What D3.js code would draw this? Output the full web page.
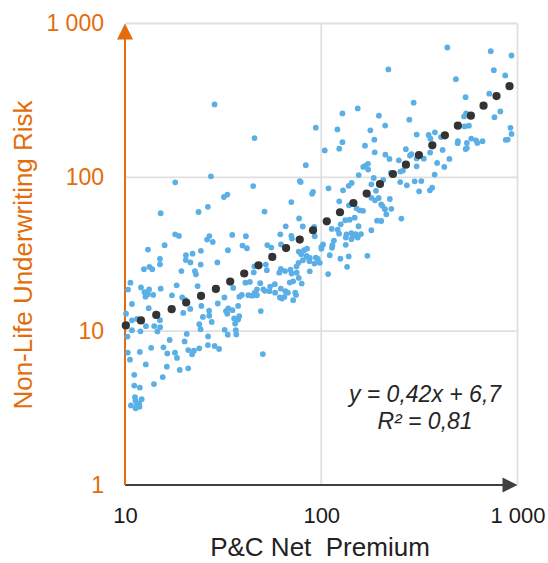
<!DOCTYPE html>
<html>
<head>
<meta charset="utf-8">
<script src="https://cdn.jsdelivr.net/npm/d3@7"></script>
<style>
  body { margin: 0; background: #fff; }
  text { font-family: "Liberation Sans", Arial, sans-serif; }
</style>
</head>
<body>
<svg width="548" height="563"></svg>
<script>
// tick values and labels
const xTicks = [10, 100, 1000];
const xLabels = ["10", "100", "1 000"];
const yTicks = [1, 10, 100, 1000];
const yLabels = ["1", "10", "100", "1 000"];

// trend points (dark dots)
const trendX = [10.1, 12.06, 14.43, 17.29, 20.5, 24.4, 29.05, 34.35, 40.5, 47.9, 56.3, 66.2, 77.7, 90.8, 106.7,
  124.6, 145.8, 170.4, 199.2, 231.9, 270.1, 314.6, 368.1, 426.6, 496.8, 578.6, 671.4, 781.7, 910.7];
const trendY = [10.9, 11.74, 12.76, 13.9, 15.36, 16.95, 18.83, 21.02, 23.7, 26.8, 30.4, 34.7, 39.4, 45.3, 51.8,
  59.3, 68.1, 78.4, 90.5, 105.1, 120.9, 139.6, 161.4, 187.4, 216.6, 251.5, 292.2, 337.3, 391.6];

// companies: [P&C net premium, non-life underwriting risk]
const companies = [
  [28.6,298],[27.4,101.5],[18.03,92.8],[15.2,58.4],[23.7,59.5],[26.45,64.3],[18.0,42.6],[18.83,41.6],[26.2,39.4],[26.9,41.5],
  [28.0,38.0],[13.09,33.9],[15.92,36.2],[24.36,33.3],[12.49,25.3],[13.32,26.2],[13.77,25.3],[15.07,29.5],[15.07,27.2],[19.39,24.6],
  [20.44,31.15],[20.4,29.0],[22.1,31.9],[21.55,28.0],[24.3,27.1],[29.56,28.0],[22.71,24.6],[22.98,23.45],[10.66,20.65],[10.36,18.65],
  [12.06,19.25],[13.27,18.68],[12.57,17.92],[13.09,17.39],[12.71,16.75],[13.93,17.2],[15.2,18.9],[18.33,19.85],[23.44,19.65],[17.34,17.1],
  [19.57,16.55],[20.27,15.99],[10.85,15.02],[13.21,14.1],[21.5,13.96],[24.5,14.58],[29.7,15.13],[10.12,12.99],[19.8,13.14],[26.83,13.59],
  [26.86,12.6],[24.94,12.38],[27.66,11.48],[10.85,11.76],[11.51,12.0],[15.07,11.79],[12.79,10.78],[14.09,10.8],[15.1,10.62],[14.63,9.96],
  [10.85,10.15],[11.99,9.97],[23.9,11.1],[24.28,10.3],[10.3,9.22],[20.63,9.6],[16.88,8.76],[20.13,8.58],[26.5,9.24],[26.45,8.12],
  [28.61,8.01],[30.17,7.66],[15.7,7.85],[13.59,7.79],[21.0,7.53],[22.45,7.47],[23.9,7.73],[21.98,7.07],[10.33,7.26],[11.9,7.33],
  [17.97,7.25],[16.42,7.17],[18.4,6.7],[10.6,6.53],[12.76,6.08],[16.34,5.88],[19.0,5.6],[21.0,5.73],[11.15,5.2],[15.57,5.03],
  [11.15,4.43],[11.9,4.3],[14.04,4.53],[11.24,3.72],[11.31,3.53],[12.16,3.61],[11.81,3.39],[10.72,3.29],[11.33,3.15],[11.85,3.23],
  [11.51,3.33],
  [45.7,180],[45.0,87.8],[31.9,74.5],[33.24,77.2],[51.4,59.9],[35.2,42.2],[41.3,41.4],[33.44,33.57],[39.7,36.0],[41.8,34.6],
  [53.1,36.3],[55.66,34.95],[45.6,26.4],[52.2,27.1],[52.8,24.9],[45.3,24.1],[83.4,120],[77.73,94.6],[78.6,93.2],[90.8,80.5],
  [89.8,78.1],[70.4,69.1],[77.1,54.1],[65.9,48.06],[80.5,47.9],[92.1,47.7],[61.85,42.6],[70.4,41.6],[70.9,40.0],[92.67,41.4],
  [62.4,36.6],[84.6,34.4],[81.7,33.6],[76.8,32.9],[79.0,31.6],[84.1,30.9],[85.1,30.3],[87.4,29.9],[93.8,30.1],[96.0,29.5],
  [100.2,34.4],[80.6,28.9],[87.1,28.5],[92.35,27.5],[98.3,27.8],[74.8,26.3],[76.6,27.8],[62.2,25.4],[65.4,24.6],[61.1,24.0],
  [69.7,25.1],[70.6,23.7],[75.0,24.0],[87.4,24.5],[41.05,20.65],[43.27,20.9],[48.9,20.5],[50.7,18.7],[51.6,18.3],[54.5,18.2],
  [54.9,19.5],[45.7,17.7],[47.0,17.2],[42.5,17.13],[44.5,17.0],[46.8,17.1],[39.4,17.2],[38.26,16.75],[35.6,19.1],[47.0,18.7],
  [58.0,20.2],[62.2,18.9],[65.7,18.2],[67.6,17.8],[69.1,20.7],[71.9,21.1],[76.8,22.2],[79.5,20.4],[73.7,17.8],[74.4,17.2],
  [61.5,16.55],[63.1,16.3],[64.9,16.7],[71.9,15.9],[58.2,17.8],[32.1,16.55],[37.7,14.6],[33.6,14.05],[32.7,13.5],[33.2,13.0],
  [35.3,13.7],[36.0,12.1],[38.2,12.5],[37.7,11.9],[36.4,11.2],[32.2,10.2],[33.4,9.49],[36.7,10.15],[36.9,9.52],[49.2,13.5],
  [50.4,7.1],
  [438.9,698],[730.6,660.8],[932,619.6],[219.8,502.6],[485.4,434.8],[757.5,497.4],[865.7,459.5],[543.7,332],[717.9,350],[295.7,305.9],
  [153.4,280.5],[128.2,260.3],[196.7,251.6],[281.1,237.0],[211.7,217],[93.8,210.3],[120.9,205],[177.9,202],[534.2,249],[547.0,260.3],
  [565.3,216.6],[537.4,214.4],[763,246],[817.5,268.3],[920.3,209.7],[932,191.6],[306.3,189.7],[186.5,175.7],[128.2,169.3],[123.5,153.5],
  [104.2,149.7],[167.1,160.7],[187.2,145.3],[212.2,140.4],[222.7,131.8],[269.9,152.4],[283.1,138.5],[288.1,141.6],[248.6,128.9],[253,109.0],
  [260.8,110.7],[306.3,132.8],[306.3,117.9],[333.2,132.2],[352.5,188.8],[360,178.4],[379.5,196],[407.2,182.7],[497,172.1],[495.3,166.7],
  [552.1,167.3],[581.4,178.6],[615,173.9],[623.9,167.3],[663.6,171.8],[543.7,152.6],[552.1,155.0],[870.8,175.2],[891.5,175.9],[358.8,144.8],
  [415.5,150.8],[389.4,124.0],[449.7,131.8],[423.7,116.9],[378.2,104.2],[357.9,82.33],[367.3,85.6],[315.3,81.1],[323.6,94.5],[299.2,94.2],
  [273.0,88.7],[252.4,93.2],[226.3,106.9],[206.9,96.3],[185.0,99.0],[180,90.1],[155.2,103.5],[163.7,116.9],[167.5,118.8],[173.0,122.5],
  [173.4,112.3],[142.9,92.0],[138.0,88.0],[129.1,82.3],[108.9,84.8],[123.5,69.8],[138.4,65.8],[151.3,62.9],[157.0,61.05],[163.3,60.6],
  [190.1,81.7],[180,73.6],[187.9,70.9],[196.2,73.4],[202.1,66.8],[204.9,65.3],[223.7,72.3],[211.2,62.0],[227.6,62.4],[214.7,57.5],
  [255.9,53.9],[192.5,52.3],[202.1,52.0],[180,45.3],[132.5,52.6],[139.6,53.0],[148.1,54.7],[125.7,49.5],[154.9,48.1],[113.1,46.2],
  [121.3,45.7],[123.3,43.0],[134.5,42.6],[142.4,43.4],[145.1,41.4],[149.8,42.8],[153.4,40.6],[159.4,42.8],[142.4,39.6],[133.3,40.6],
  [116.1,38.8],[102.1,36.6],[100.2,35.3],[114.0,36.2],[113.5,34.8],[133.3,36.4],[110.5,31.15],[125.2,29.6],[138.0,30.6],[171.8,30.9],
  [135.4,26.2],[108.4,23.5]
];

const orange = "#e46c0a";
const dark = "#404040";

const svg = d3.select("svg");

const plotLeft = 125, plotRight = 517.5, plotTop = 23.5, plotBottom = 485;

const x = d3.scaleLog().domain([10, 1000]).range([plotLeft, plotRight]);
const y = d3.scaleLog().domain([1, 1000]).range([plotBottom, plotTop]);

// gridlines
const grid = svg.append("g").attr("stroke", "#e0e0e0").attr("stroke-width", 1.8);
grid.selectAll(".gh")
  .data(yTicks.slice(1))
  .join("line")
  .attr("x1", plotLeft).attr("x2", plotRight)
  .attr("y1", d => y(d)).attr("y2", d => y(d));
grid.selectAll(".gv")
  .data(xTicks.slice(1))
  .join("line")
  .attr("x1", d => x(d)).attr("x2", d => x(d))
  .attr("y1", plotTop).attr("y2", plotBottom);

// x axis line with arrow
svg.append("line")
  .attr("x1", plotLeft).attr("x2", plotRight - 6)
  .attr("y1", plotBottom).attr("y2", plotBottom)
  .attr("stroke", dark).attr("stroke-width", 2);
svg.append("path")
  .attr("d", `M${plotRight},${plotBottom} L${plotRight - 15},${plotBottom - 7.5} L${plotRight - 15},${plotBottom + 7.5} Z`)
  .attr("fill", dark);

// y axis line with arrow
svg.append("line")
  .attr("x1", plotLeft).attr("x2", plotLeft)
  .attr("y1", plotBottom).attr("y2", plotTop + 6)
  .attr("stroke", orange).attr("stroke-width", 2);
svg.append("path")
  .attr("d", `M${plotLeft},${plotTop} L${plotLeft - 8},${plotTop + 16} L${plotLeft + 8},${plotTop + 16} Z`)
  .attr("fill", orange);

// tick labels
const yAxis = svg.append("g")
  .attr("transform", `translate(${plotLeft},0)`)
  .call(d3.axisLeft(y).tickValues(yTicks).tickFormat((d, i) => yLabels[i]).tickSize(0).tickPadding(21));
yAxis.select(".domain").remove();
yAxis.selectAll("text")
  .attr("fill", orange)
  .style("font-size", "23px")
  .style("font-family", "'Liberation Sans', Arial, sans-serif");

const xAxis = svg.append("g")
  .attr("transform", `translate(0,${plotBottom})`)
  .call(d3.axisBottom(x).tickValues(xTicks).tickFormat((d, i) => xLabels[i]).tickSize(0).tickPadding(22));
xAxis.select(".domain").remove();
xAxis.selectAll("text")
  .attr("fill", "#1a1a1a")
  .style("font-size", "22px")
  .style("font-family", "'Liberation Sans', Arial, sans-serif");

// scatter
svg.append("g")
  .selectAll("circle")
  .data(companies)
  .join("circle")
  .attr("cx", d => x(d[0]))
  .attr("cy", d => y(d[1]))
  .attr("r", 2.9)
  .attr("fill", "#5aafe6");

// trend dots
svg.append("g")
  .selectAll("circle")
  .data(trendX)
  .join("circle")
  .attr("cx", d => x(d))
  .attr("cy", (d, i) => y(trendY[i]))
  .attr("r", 4.1)
  .attr("fill", "#333333");

// axis titles
svg.append("text")
  .attr("transform", "translate(32,255) rotate(-90)")
  .attr("text-anchor", "middle")
  .attr("fill", orange)
  .style("font-size", "26px")
  .text("Non-Life Underwriting Risk");

svg.append("text")
  .attr("x", 320)
  .attr("y", 556)
  .attr("text-anchor", "middle")
  .attr("fill", "#222")
  .style("font-size", "26px")
  .style("white-space", "pre")
  .text("P&C Net  Premium");

// regression label
const eq = svg.append("text")
  .attr("text-anchor", "middle")
  .attr("fill", "#262626")
  .style("font-size", "23px")
  .style("font-style", "italic");
eq.append("tspan").attr("x", 425).attr("y", 402).text("y = 0,42x + 6,7");
eq.append("tspan").attr("x", 425).attr("y", 429).text("R² = 0,81");
</script>
</body>
</html>
